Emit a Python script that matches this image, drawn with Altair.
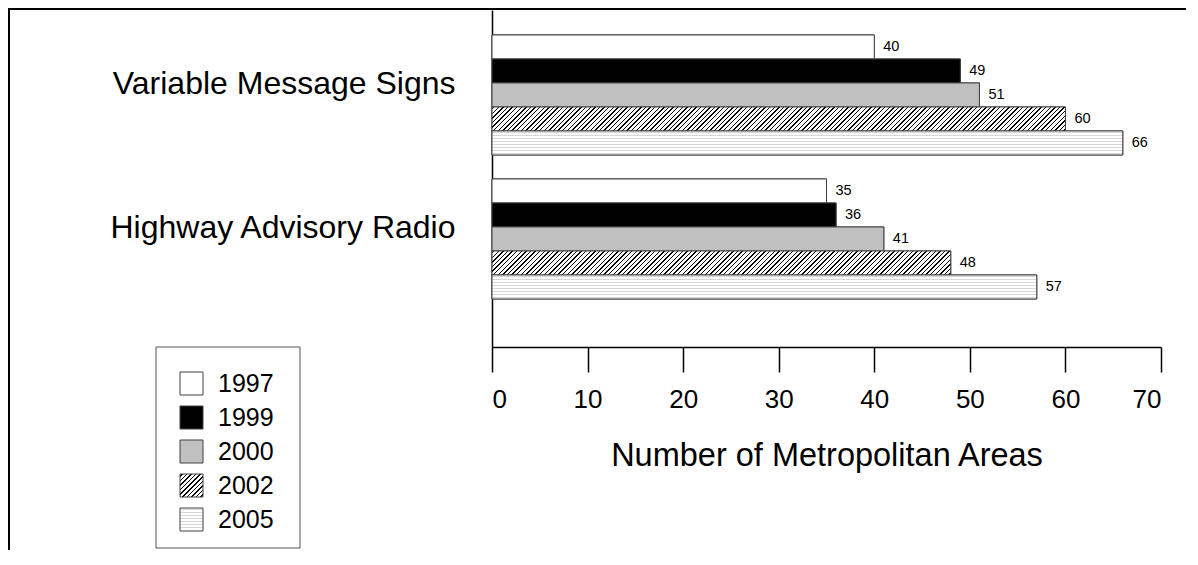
import json
import altair as alt

# ---------------- data ----------------
categories = ["Variable Message Signs", "Highway Advisory Radio"]
years = ["1997", "1999", "2000", "2002", "2005"]
vms_values = [40, 49, 51, 60, 66]
har_values = [35, 36, 41, 48, 57]
x_ticks = [0, 10, 20, 30, 40, 50, 60, 70]
x_title = "Number of Metropolitan Areas"

# ---------------- layout / style ----------------
W, H = 669, 337
XMAX = 70
BAR_H = 24.0
LEG_SYM = 23
FONT = "Liberation Sans"
OUTLINE = "#404040"
solid_fill = {"1997": "#ffffff", "1999": "#000000", "2000": "#c0c0c0"}


def stripe_stops(span, period, lw, dark, light="#ffffff"):
    stops = [{"offset": 0, "color": light}]
    s = period / 2.0
    while s + lw / 2.0 < span:
        a = round((s - lw / 2.0) / span, 5)
        b = round((s + lw / 2.0) / span, 5)
        stops += [
            {"offset": a, "color": light},
            {"offset": a, "color": dark},
            {"offset": b, "color": dark},
            {"offset": b, "color": light},
        ]
        s += period
    stops.append({"offset": 1, "color": light})
    return stops


def hatch_gradient(w, h):
    # 45-degree "////" stripes inside a w x h box (objectBoundingBox units)
    k = (w + h) * w / (w * w + h * h)
    return {"gradient": "linear", "x1": 0, "y1": 0, "x2": round(k, 5),
            "y2": round(k * h / w, 5),
            "stops": stripe_stops(w + h, 4.6, 1.4, "#000000")}


def dot_gradient(h):
    return {"gradient": "linear", "x1": 0, "y1": 0, "x2": 0, "y2": 1,
            "stops": stripe_stops(h, 3.0, 1.0, "#d8d8d8")}


def pattern_for(year, value):
    if year in solid_fill:
        return solid_fill[year]
    w = value * W / XMAX
    if year == "2002":
        return hatch_gradient(w, BAR_H)
    return dot_gradient(BAR_H)


rows = []
for cat, vals in zip(categories, [vms_values, har_values]):
    for yr, v in zip(years, vals):
        rows.append({"category": cat, "year": yr, "value": v,
                     "pat": pattern_for(yr, v)})

data = alt.Data(values=rows)

legend_range = [
    solid_fill["1997"],
    solid_fill["1999"],
    solid_fill["2000"],
    {"expr": json.dumps(hatch_gradient(LEG_SYM, LEG_SYM))},
    {"expr": json.dumps(dot_gradient(LEG_SYM))},
]

y_enc = alt.Y(
    "category:N",
    sort=categories,
    scale=alt.Scale(paddingInner=0.1667, paddingOuter=0.2535, align=0.342),
    axis=alt.Axis(
        title=None, ticks=False, labelFontSize=32, labelPadding=37,
        labelOffset=-11, labelLimit=600, labelColor="black",
        domainColor="black", domainWidth=1.5, labelFont=FONT,
    ),
)
x_enc = alt.X(
    "value:Q",
    scale=alt.Scale(domain=[0, XMAX], nice=False, zero=True),
    axis=alt.Axis(
        values=x_ticks, title=x_title, grid=False, tickSize=25,
        tickColor="black", tickWidth=1.5, domainColor="black",
        domainWidth=1.5, labelFontSize=26, labelPadding=14,
        labelColor="black", labelFont=FONT, titleFont=FONT,
        titleFontSize=32.5, titleFontWeight="normal", titleColor="black",
        titleY=92, titleBaseline="top",
    ),
)
yoff = alt.YOffset("year:N", sort=years,
                   scale=alt.Scale(paddingInner=0, paddingOuter=0))

legend_bars = alt.Chart(data).mark_bar(
    stroke=OUTLINE, strokeWidth=1
).encode(
    x=x_enc, y=y_enc, yOffset=yoff,
    fill=alt.Fill(
        "year:N", sort=years,
        scale=alt.Scale(domain=years, range=legend_range),
        legend=alt.Legend(
            title=None, orient="none", legendX=-313, legendY=361,
            symbolType="square", symbolSize=LEG_SYM * LEG_SYM,
            symbolStrokeColor=OUTLINE, symbolStrokeWidth=1,
            labelFontSize=25, labelOffset=14, rowPadding=7,
            labelFont=FONT, labelColor="black", padding=0,
        ),
    ),
)

pattern_bars = alt.Chart(data).mark_bar(
    stroke=OUTLINE, strokeWidth=1
).encode(
    x="value:Q", y=alt.Y("category:N", sort=categories), yOffset=yoff,
    fill=alt.Fill("pat:N", scale=None),
)

labels = alt.Chart(data).mark_text(
    align="left", baseline="middle", dx=9, fontSize=14.5, font=FONT,
    color="black",
).encode(
    x="value:Q", y=alt.Y("category:N", sort=categories), yOffset=yoff,
    text="value:Q",
)

deco = alt.Data(values=[{"k": 0}])
frame_left = alt.Chart(deco).mark_rule(color="black", strokeWidth=2).encode(
    x=alt.value(-483), y=alt.value(-2), y2=alt.value(545))
frame_top = alt.Chart(deco).mark_rule(color="black", strokeWidth=2).encode(
    x=alt.value(-484), x2=alt.value(720), y=alt.value(-1))
legend_box = alt.Chart(deco).mark_rect(
    fillOpacity=0, stroke="#555555", strokeWidth=1
).encode(
    x=alt.value(-336), x2=alt.value(-192), y=alt.value(337), y2=alt.value(538))

chart = alt.layer(
    legend_bars, pattern_bars, labels, legend_box, frame_left, frame_top
).properties(
    width=W, height=H,
    autosize=alt.AutoSizeParams(type="none"),
    padding={"left": 484, "top": 2, "right": 25, "bottom": 203},
).configure(
    font=FONT,
).configure_view(
    stroke=None,
)

chart.save("out.html", embed_options={"renderer": "svg", "actions": False})
